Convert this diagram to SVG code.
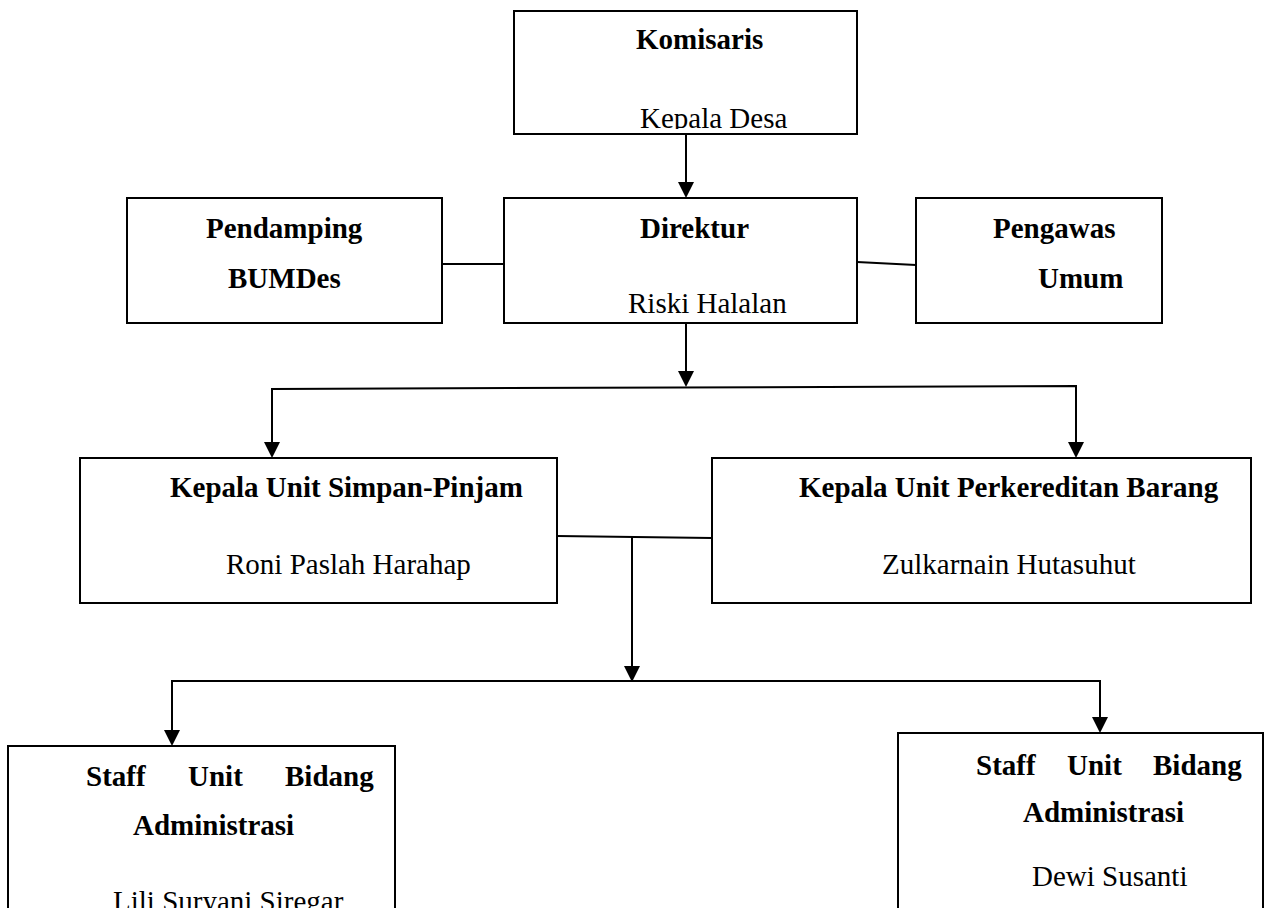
<svg xmlns="http://www.w3.org/2000/svg" width="1265" height="908" viewBox="0 0 1265 908">
<style>
.box{fill:#fff;stroke:#000;stroke-width:2}
.b{font-family:"Liberation Serif","Times New Roman",serif;font-size:29px;font-weight:bold;fill:#000}
.r{font-family:"Liberation Serif","Times New Roman",serif;font-size:29px;fill:#000}
.ln{fill:none;stroke:#000;stroke-width:2}
.ah{fill:#000}
</style>
<defs>
<clipPath id="ck"><rect x="514" y="11" width="343" height="118"/></clipPath>
</defs>
<rect width="1265" height="908" fill="#fff"/>
<g id="connectors">
<line class="ln" x1="686" y1="134" x2="686" y2="183"/>
<path class="ah" d="M686,198 L678,182 L694,182 Z"/>
<line class="ln" x1="442" y1="264" x2="504" y2="264"/>
<line class="ln" x1="857" y1="262" x2="916" y2="265"/>
<line class="ln" x1="686" y1="323" x2="686" y2="372"/>
<path class="ah" d="M686,387 L678,371 L694,371 Z"/>
<polyline class="ln" points="272,444 272,389 1076,386 1076,444"/>
<path class="ah" d="M272,458 L264,442 L280,442 Z"/>
<path class="ah" d="M1076,458 L1068,442 L1084,442 Z"/>
<line class="ln" x1="557" y1="536" x2="712" y2="538"/>
<line class="ln" x1="632" y1="537" x2="632" y2="667"/>
<path class="ah" d="M632,682 L624,666 L640,666 Z"/>
<polyline class="ln" points="172,731 172,681 1100,681 1100,718"/>
<path class="ah" d="M172,746 L164,730 L180,730 Z"/>
<path class="ah" d="M1100,733 L1092,717 L1108,717 Z"/>
</g>
<g id="komisaris">
<rect class="box" x="514" y="11" width="343" height="123"/>
<text class="b" x="636" y="49">Komisaris</text>
<text class="r" x="640" y="128" clip-path="url(#ck)">Kepala Desa</text>
</g>
<g id="pendamping">
<rect class="box" x="127" y="198" width="315" height="125"/>
<text class="b" x="206" y="238">Pendamping</text>
<text class="b" x="228" y="288">BUMDes</text>
</g>
<g id="direktur">
<rect class="box" x="504" y="198" width="353" height="125"/>
<text class="b" x="640" y="238">Direktur</text>
<text class="r" x="628" y="313">Riski Halalan</text>
</g>
<g id="pengawas">
<rect class="box" x="916" y="198" width="246" height="125"/>
<text class="b" x="993" y="238">Pengawas</text>
<text class="b" x="1038" y="288">Umum</text>
</g>
<g id="kepala-simpan-pinjam">
<rect class="box" x="80" y="458" width="477" height="145"/>
<text class="b" x="170" y="497">Kepala Unit Simpan-Pinjam</text>
<text class="r" x="226" y="574">Roni Paslah Harahap</text>
</g>
<g id="kepala-perkereditan">
<rect class="box" x="712" y="458" width="539" height="145"/>
<text class="b" x="799" y="497">Kepala Unit Perkereditan Barang</text>
<text class="r" x="882" y="574">Zulkarnain Hutasuhut</text>
</g>
<g id="staff-left">
<rect class="box" x="8" y="746" width="387" height="180"/>
<text class="b" y="786"><tspan x="86">Staff</tspan><tspan x="188">Unit</tspan><tspan x="285">Bidang</tspan></text>
<text class="b" x="133" y="835">Administrasi</text>
<text class="r" x="113" y="911">Lili Suryani Siregar</text>
</g>
<g id="staff-right">
<rect class="box" x="898" y="733" width="365" height="190"/>
<text class="b" y="775"><tspan x="976">Staff</tspan><tspan x="1067">Unit</tspan><tspan x="1153">Bidang</tspan></text>
<text class="b" x="1023" y="822">Administrasi</text>
<text class="r" x="1032" y="886">Dewi Susanti</text>
</g>
</svg>
